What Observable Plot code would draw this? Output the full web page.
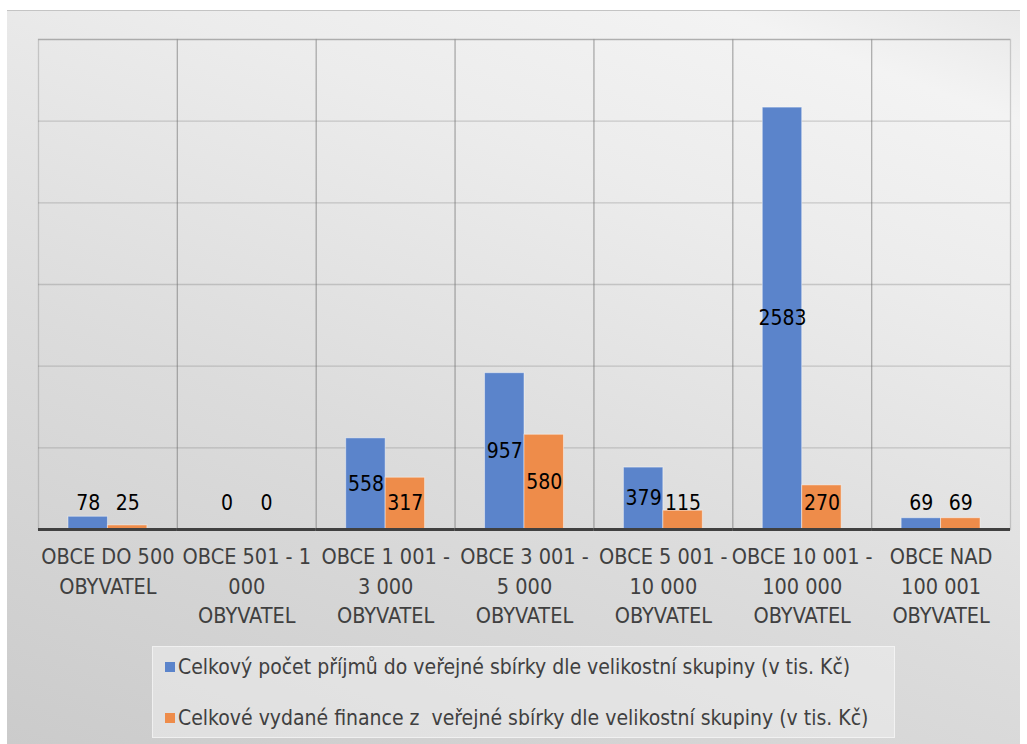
<!DOCTYPE html>
<html><head><meta charset="utf-8">
<script src="https://cdn.jsdelivr.net/npm/d3@7"></script>
<script src="https://cdn.jsdelivr.net/npm/@observablehq/plot@0.6"></script>
<style>
html,body{margin:0;padding:0;background:#fff;overflow:hidden;width:1027px;height:744px;}
#wrap{position:absolute;left:7px;top:10px;width:1013px;height:734px;box-sizing:border-box;border-top:1px solid #c4c4c4;
 background:linear-gradient(20deg,#cbcbcb 0%,#dcdcdc 40%,#ececec 72%,#f3f3f3 90%,#e9e9e9 100%);overflow:hidden;}
#chart{position:absolute;left:-7px;top:-10px;width:1027px;height:640px;overflow:hidden;}
#legend{position:absolute;left:145px;top:635px;width:743px;height:92px;background:rgba(238,238,238,0.55);box-sizing:border-box;
 border:1px solid rgba(255,255,255,0.5);font-family:"DejaVu Sans Condensed",sans-serif;font-size:21px;color:#404040;}
.li{position:absolute;left:12px;display:flex;align-items:center;white-space:nowrap;}
.sw{width:10px;height:10px;margin-right:3px;}
</style></head>
<body>
<div id="wrap"><div id="chart"></div><div id="legend"></div></div>
<script>
const categories = ["OBCE DO 500 OBYVATEL","OBCE 501 - 1 000 OBYVATEL","OBCE 1 001 - 3 000 OBYVATEL","OBCE 3 001 - 5 000 OBYVATEL","OBCE 5 001 - 10 000 OBYVATEL","OBCE 10 001 - 100 000 OBYVATEL","OBCE NAD 100 001 OBYVATEL"];
const tickLabels = ["OBCE DO 500\nOBYVATEL","OBCE 501 - 1\n000\nOBYVATEL","OBCE 1 001 -\n3 000\nOBYVATEL","OBCE 3 001 -\n5 000\nOBYVATEL","OBCE 5 001 -\n10 000\nOBYVATEL","OBCE 10 001 -\n100 000\nOBYVATEL","OBCE NAD\n100 001\nOBYVATEL"];
const seriesNames = ["Celkový počet příjmů do veřejné sbírky dle velikostní skupiny (v tis. Kč)","Celkové vydané finance z  veřejné sbírky dle velikostní skupiny (v tis. Kč)"];
const prijmy = [78,0,558,957,379,2583,69];
const vydane = [25,0,317,580,115,270,69];
const colors = ["#5b84cb","#ee8c4a"];
const yTicks = [0,500,1000,1500,2000,2500,3000];

const data = [];
categories.forEach((c,i)=>{
  data.push({cat:c, s:seriesNames[0], v:prijmy[i]});
  data.push({cat:c, s:seriesNames[1], v:vydane[i]});
});
const font = '"DejaVu Sans Condensed",sans-serif';
const labelMin = 160;

const chart = Plot.plot({
  width: 1027, height: 640,
  marginLeft: 38, marginRight: 17, marginTop: 38, marginBottom: 112,
  style: {fontFamily: font, background: "transparent"},
  fx: {domain: categories, padding: 0, round: false, axis: null},
  x: {domain: seriesNames, paddingInner: 0, paddingOuter: 0.76, round: false, axis: null},
  y: {domain: [0,3000], axis: null},
  color: {domain: seriesNames, range: colors},
  marks: [
    Plot.gridY(yTicks, {stroke: "#707070", strokeOpacity: 0.3, strokeWidth: 1.3}),
    Plot.frame({stroke: "#707070", strokeOpacity: 0.3, strokeWidth: 1.3}),
    Plot.barY(data, {fx: "cat", x: "s", y: "v", fill: "s", stroke: "#ffffff", strokeOpacity: 0.45, strokeWidth: 1, inset: 0}),
    Plot.text(data, {fx: "cat", x: "s", y: d => Math.max(d.v/2, labelMin), text: d => String(d.v), fontSize: 21, fill: "#000"}),
    Plot.ruleY([0], {stroke: "#404040", strokeWidth: 3}),
    Plot.text(categories, {fx: d => d, text: d => tickLabels[categories.indexOf(d)], frameAnchor: "bottom", lineAnchor: "top", dy: 14, fontSize: 21.5, lineHeight: 1.37, fill: "#404040"})
  ]
});
document.getElementById("chart").appendChild(chart);

const lg = document.getElementById("legend");
seriesNames.forEach((n,i)=>{
  const d = document.createElement("div");
  d.className = "li";
  d.style.top = (i===0 ? 8 : 59) + "px";
  d.innerHTML = `<span class="sw" style="background:${colors[i]}"></span><span>${n.replace(/ /g,"&nbsp;")}</span>`;
  lg.appendChild(d);
});
</script>
</body></html>
